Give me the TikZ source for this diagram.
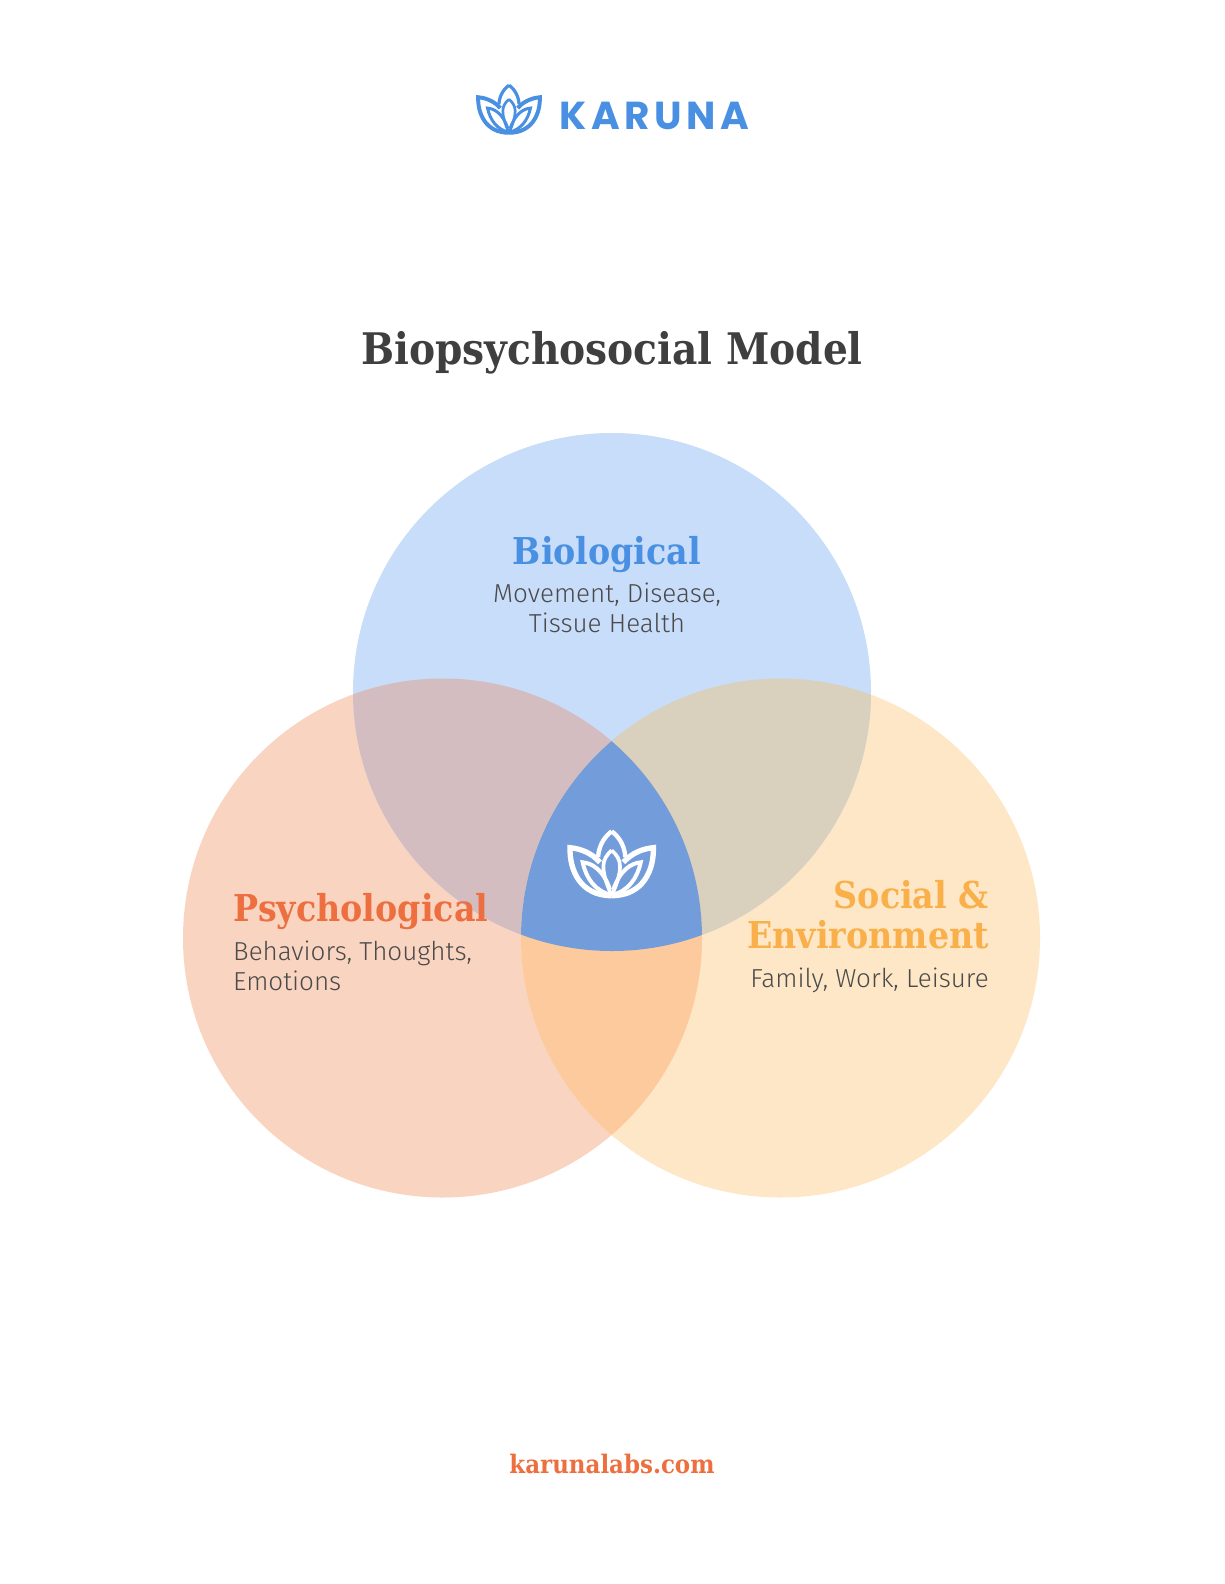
\documentclass[tikz,border=0pt]{standalone}
\usepackage{fontspec}
\setmainfont{DejaVu Serif Condensed}
\newfontfamily\bodyfont[UprightFont=* Light]{Fira Sans}
\newfontfamily\logofont[LetterSpace=12]{Poppins}
\definecolor{cblue}{HTML}{C8DDF9}
\definecolor{corange}{HTML}{F9D4C0}
\definecolor{cyellow}{HTML}{FDE7C6}
\definecolor{cbo}{HTML}{D4BDC0}
\definecolor{cby}{HTML}{D9D1BD}
\definecolor{coy}{HTML}{FCCA9C}
\definecolor{ccentre}{HTML}{739DDA}
\definecolor{tblue}{HTML}{4A90E2}
\definecolor{torange}{HTML}{ED6F3F}
\definecolor{tyellow}{HTML}{F9B04A}
\definecolor{tbody}{HTML}{4A4A4A}
\definecolor{ttitle}{HTML}{3F3F3F}
\tikzset{
  head/.style={inner sep=0pt,font=\fontsize{37}{40}\selectfont\bfseries},
  subbody/.style={inner sep=0pt,text=tbody,font=\fontsize{26}{30}\selectfont\bodyfont},
  petal/.style={draw=#1,line join=miter,miter limit=10,line cap=butt},
}
\newcommand{\lotushalf}[2]{%
  \draw[petal=#1,line width=#2*13pt]
    (144,142) .. controls (147,100) and (170,76) .. (185,65);
  \draw[petal=#1,line width=#2*11pt]
    (185,122) .. controls (170,135) and (160,150) .. (160,170) .. controls (160,200) and (175,235) .. (185,258);
  \draw[petal=#1,line width=#2*16pt]
    (150,158) .. controls (125,130) and (92,117) .. (60,114) .. controls (58,180) and (90,258) .. (185,258);
  \draw[petal=#1,line width=#2*12pt]
    (180,240) .. controls (160,180) and (125,160) .. (98,158) .. controls (108,205) and (135,245) .. (185,256);
}
\newcommand{\lotus}[4]{% cx, bottom y, scale, colour
  \begin{scope}[shift={({#1-185*#3},{#2-265*#3})},scale=#3]
    \lotushalf{#4}{#3}
    \begin{scope}[shift={(370,0)},xscale=-1]
      \lotushalf{#4}{#3}
    \end{scope}
  \end{scope}}
\begin{document}
\begin{tikzpicture}[x=1pt,y=-1pt]
\useasboundingbox (0,0) rectangle (1224,1584);
\fill[white] (0,0) rectangle (1224,1584);
\def\cblue{(612,692) circle (259)}
\def\corange{(442.5,938) circle (259.5)}
\def\cyellow{(780.5,938) circle (259.5)}
\fill[corange] \corange;
\fill[cyellow] \cyellow;
\fill[cblue] \cblue;
\begin{scope}\clip \corange; \fill[cbo] \cblue; \end{scope}
\begin{scope}\clip \cyellow; \fill[cby] \cblue; \end{scope}
\begin{scope}\clip \corange; \fill[coy] \cyellow; \end{scope}
\begin{scope}\clip \corange; \clip \cyellow; \fill[ccentre] \cblue; \end{scope}

\lotus{509}{134.5}{0.2467}{tblue}
\lotus{611.7}{898}{0.3333}{white}

\node[anchor=base west,inner sep=0pt,text=tblue,font=\fontsize{39}{39}\selectfont\logofont\bfseries] (logo) at (559,130) {KARUNA};
\node[anchor=base,inner sep=0pt,text=ttitle,font=\fontsize{43.5}{46}\selectfont\bfseries] (title) at (612,364) {Biopsychosocial Model};

\node[head,anchor=base,text=tblue] (bio) at (607,564) {Biological};
\node[subbody,anchor=base,align=center] (biotxt) at (607,632) {Movement, Disease,\\Tissue Health};

\node[head,anchor=base west,text=torange] (psy) at (233,921) {Psychological};
\node[subbody,anchor=base west,align=left] (psytxt) at (233,990) {Behaviors, Thoughts,\\Emotions};

\node[head,anchor=base east,align=right,text=tyellow] (soc) at (989,948) {Social \&\\Environment};
\node[subbody,anchor=base east,align=right] (soctxt) at (989,987) {Family, Work, Leisure};

\node[anchor=base,inner sep=0pt,text=torange,font=\fontsize{25.5}{27}\selectfont\bfseries] (url) at (612,1473) {karunalabs.com};
\end{tikzpicture}
\end{document}
